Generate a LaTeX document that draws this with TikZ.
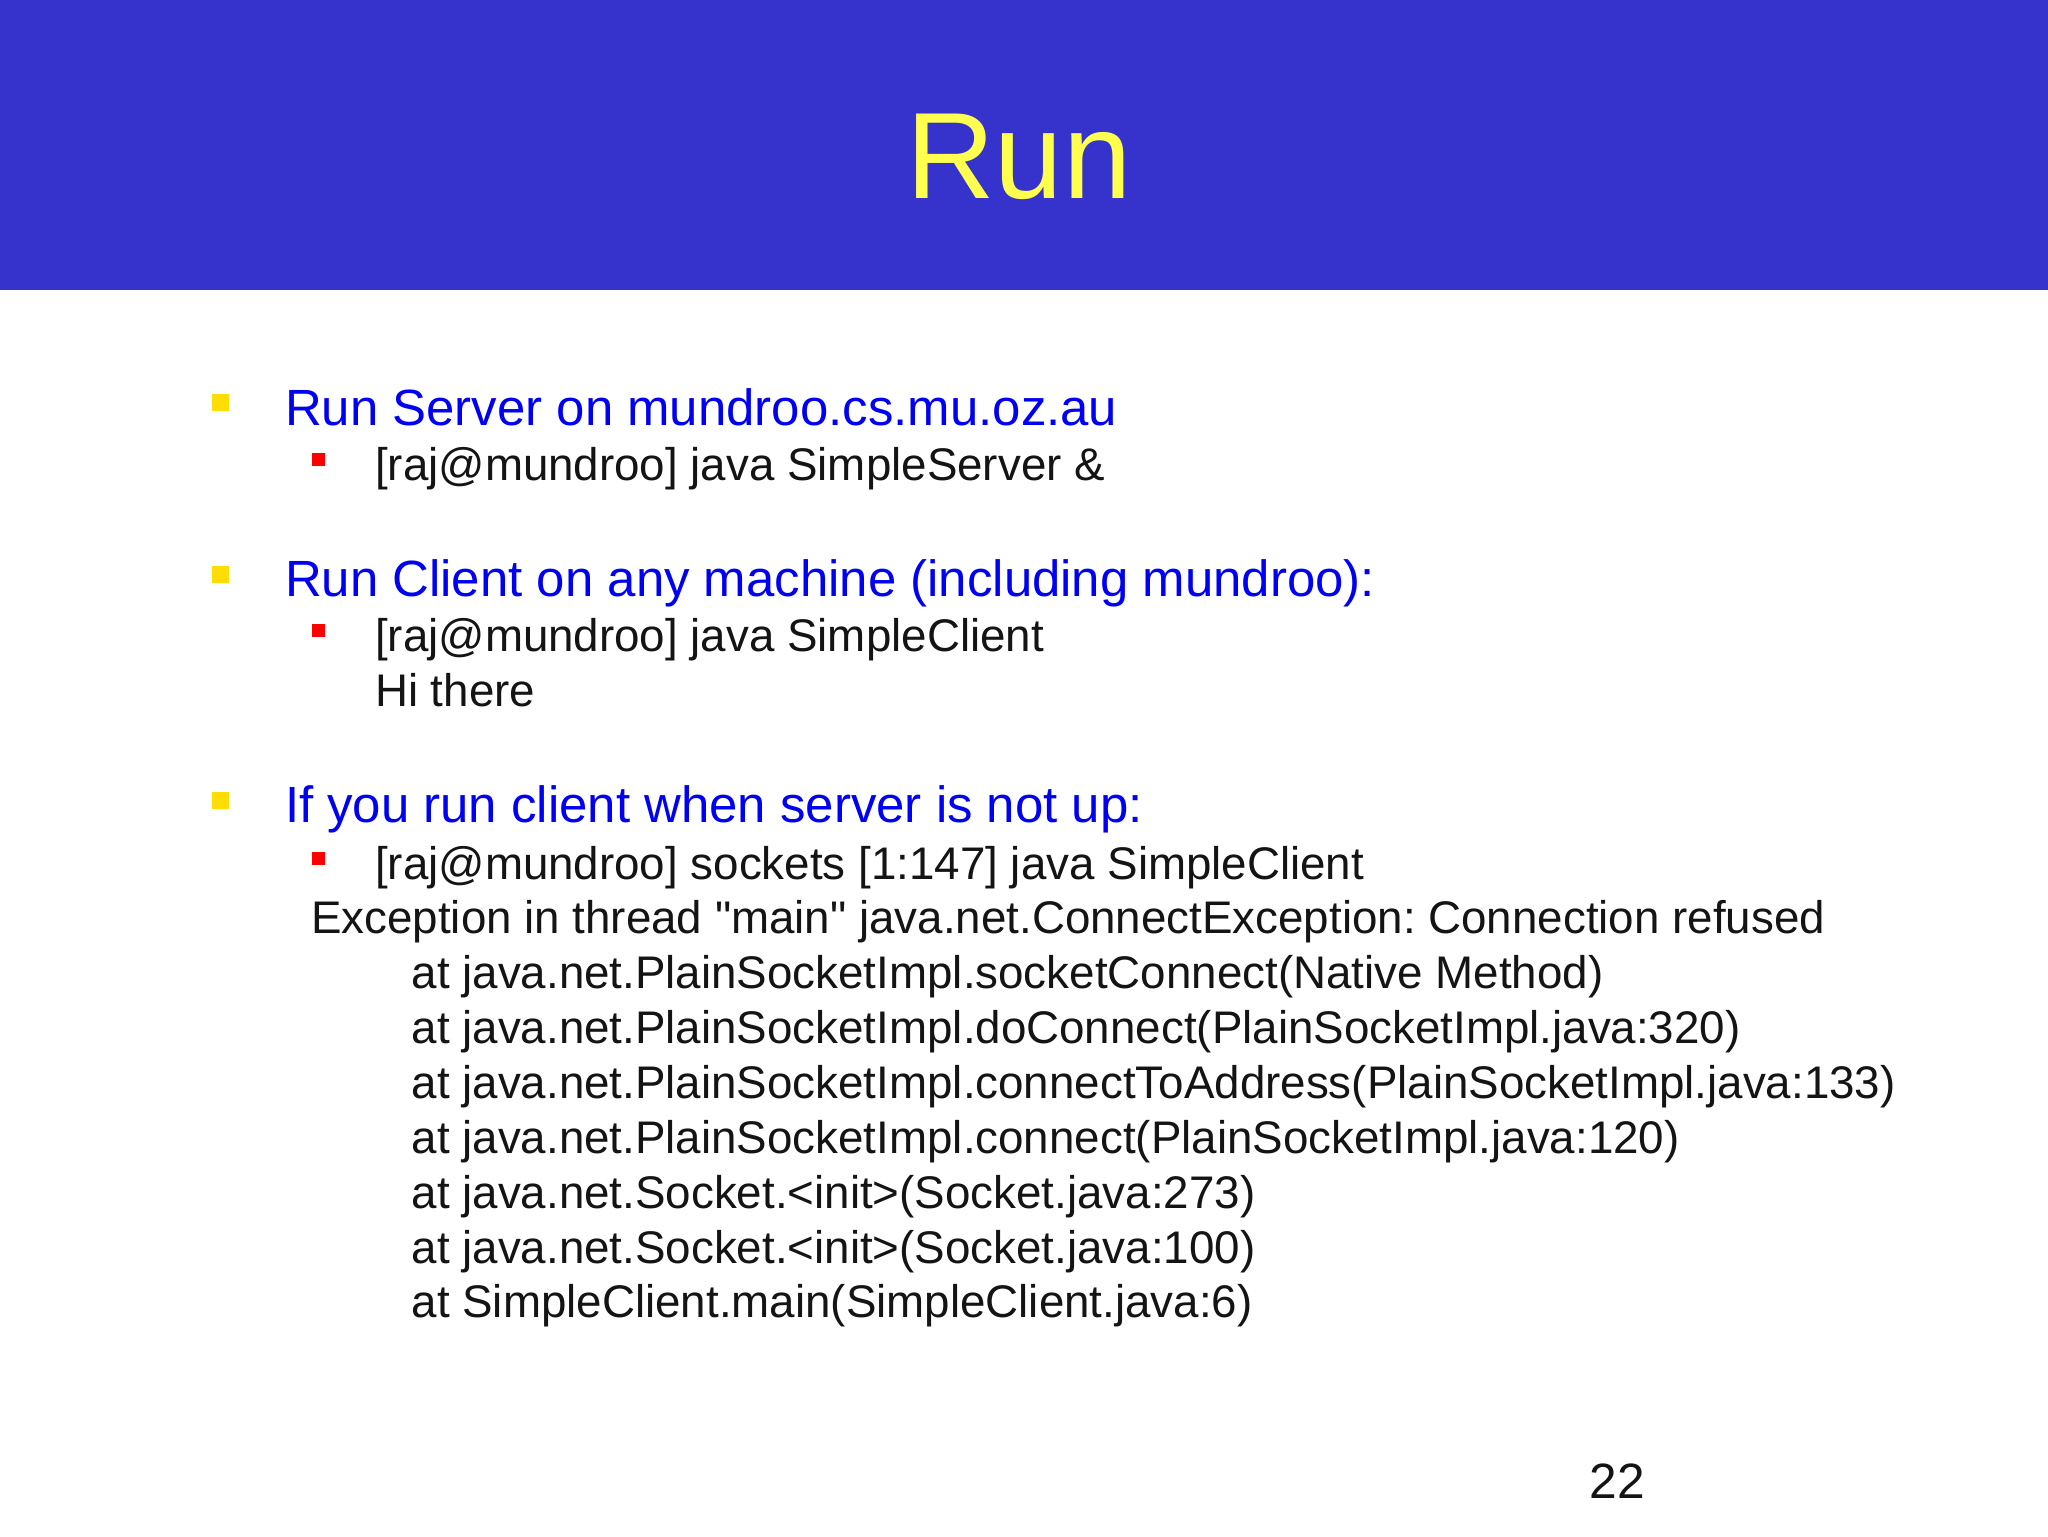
\documentclass[tikz,border=0pt]{standalone}
\usepackage{fontspec}
\setmainfont{Liberation Sans}[Ligatures=TeXOff]
\frenchspacing
\begin{document}
\begin{tikzpicture}[x=1pt,y=-1pt,
 l1/.style={anchor=base west,inner sep=0,text=blue!95!black,font=\fontsize{39}{42}\selectfont},
 l2/.style={anchor=base west,inner sep=0,text=black!92,font=\fontsize{35}{38}\selectfont},
 yb/.style={fill=yellow!80!orange,draw=none},
 rb/.style={fill=red,draw=none}]
\useasboundingbox (0,0) rectangle (1568,1176);
\fill[white] (0,0) rectangle (1568,1176);
\fill[fill={rgb,255:red,53;green,51;blue,204}] (0,0) rectangle (1568,222);
\node[anchor=base,inner sep=0,text={rgb,255:red,255;green,255;blue,80},font=\fontsize{94}{94}\selectfont] (title) at (780,152) {Run};
\fill[yb] (162,302) rectangle (175,315);
\fill[yb] (162,433) rectangle (175,446);
\fill[yb] (162,606) rectangle (175,619);
\fill[rb] (239,347) rectangle (249,357);
\fill[rb] (239,478) rectangle (249,488);
\fill[rb] (239,652) rectangle (249,662);
\node[l1] (a) at (218,326) {Run Server on mundroo.cs.mu.oz.au};
\node[l2] (a1) at (287,368) {[raj@mundroo] java SimpleServer \&};
\node[l1] (b) at (218,457) {Run Client on any machine (including mundroo):};
\node[l2] (b1) at (287,499) {[raj@mundroo] java SimpleClient};
\node[l2] (b2) at (287,541) {Hi there};
\node[l1] (c) at (218,630) {If you run client when server is not up:};
\node[l2] (c1) at (287,673) {[raj@mundroo] sockets [1:147] java SimpleClient};
\node[l2] (c2) at (238,715) {Exception in thread "main" java.net.ConnectException: Connection refused};
\node[l2] (s1) at (315,757) {at java.net.PlainSocketImpl.socketConnect(Native Method)};
\node[l2] (s2) at (315,799) {at java.net.PlainSocketImpl.doConnect(PlainSocketImpl.java:320)};
\node[l2] (s3) at (315,841) {at java.net.PlainSocketImpl.connectToAddress(PlainSocketImpl.java:133)};
\node[l2] (s4) at (315,883) {at java.net.PlainSocketImpl.connect(PlainSocketImpl.java:120)};
\node[l2] (s5) at (315,925) {at java.net.Socket.<init>(Socket.java:273)};
\node[l2] (s6) at (315,967) {at java.net.Socket.<init>(Socket.java:100)};
\node[l2] (s7) at (315,1009) {at SimpleClient.main(SimpleClient.java:6)};
\node[l2,font=\fontsize{38}{40}\selectfont] (pg) at (1217,1147) {22};
\end{tikzpicture}
\end{document}
